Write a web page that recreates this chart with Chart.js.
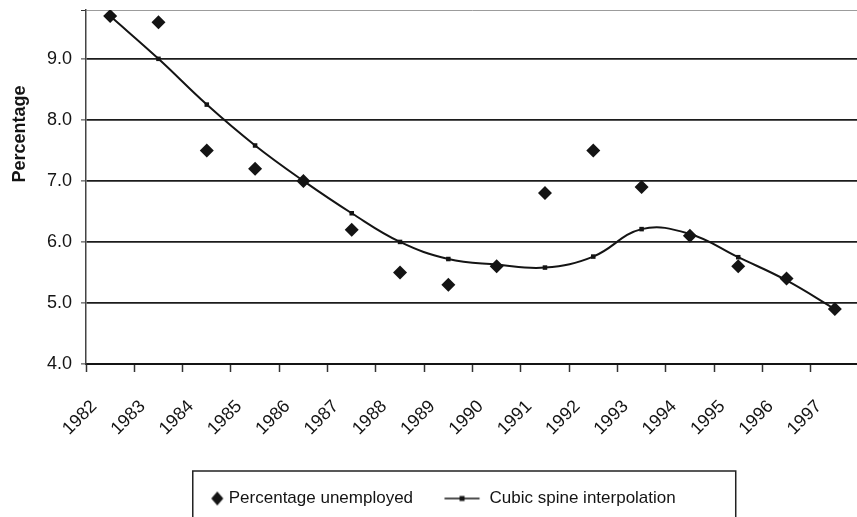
<!DOCTYPE html>
<html>
<head>
<meta charset="utf-8">
<title>Unemployment and cubic spline</title>
<script src="https://cdn.jsdelivr.net/npm/chart.js@4.4.0/dist/chart.umd.min.js"></script>
<style>
  html, body { margin: 0; padding: 0; background: #fff; overflow: hidden; }
  #wrap { width: 866px; height: 517px; }
</style>
</head>
<body>
<div id="wrap"><canvas id="chart" width="866" height="517"></canvas></div>
<script>
// Yearly unemployment rate and the fitted spline values
const years = ['1982', '1983', '1984', '1985', '1986', '1987', '1988', '1989',
               '1990', '1991', '1992', '1993', '1994', '1995', '1996', '1997'];
const unemployed = [9.7, 9.6, 7.5, 7.2, 7.0, 6.2, 5.5, 5.3, 5.6, 6.8, 7.5, 6.9, 6.1, 5.6, 5.4, 4.9];
const spline = [9.7, 9.0, 8.25, 7.58, 7.0, 6.47, 6.0, 5.72, 5.63, 5.58, 5.76, 6.21, 6.13, 5.75, 5.37, 4.9];
const yTicks = [4, 5, 6, 7, 8, 9];
const yMin = 4;
const yMax = 9.8;

const ink = '#141414';
Chart.defaults.font.family = "'Liberation Sans', Arial, sans-serif";
Chart.defaults.color = ink;

// small legend swatches: a diamond and a line with a square marker
function diamondSwatch() {
  const c = document.createElement('canvas');
  c.width = 44; c.height = 18;
  const g = c.getContext('2d');
  g.fillStyle = ink;
  g.beginPath();
  g.moveTo(34, 2); g.lineTo(40, 9); g.lineTo(34, 16); g.lineTo(28, 9);
  g.closePath();
  g.fill();
  return c;
}
function lineSwatch() {
  const c = document.createElement('canvas');
  c.width = 44; c.height = 18;
  const g = c.getContext('2d');
  g.strokeStyle = ink;
  g.lineWidth = 1.6;
  g.beginPath(); g.moveTo(0.5, 9); g.lineTo(35.5, 9); g.stroke();
  g.fillStyle = ink;
  g.fillRect(15.5, 6.5, 5, 5);
  return c;
}
const swatches = [diamondSwatch(), lineSwatch()];

// frame around the legend row
const legendFrame = {
  id: 'legendFrame',
  afterDraw(chart) {
    const hb = chart.legend.legendHitBoxes;
    if (!hb || hb.length < 2) return;
    const ctx = chart.ctx;
    const left = hb[0].left + 2.5;
    const right = hb[1].left + hb[1].width + 60;
    const top = hb[0].top - 19;
    ctx.save();
    ctx.strokeStyle = '#222';
    ctx.lineWidth = 1.5;
    ctx.strokeRect(left, top, right - left, 60);
    ctx.restore();
  }
};

// vertical axis title, set higher than the axis middle
const axisTitle = {
  id: 'axisTitle',
  afterDraw(chart) {
    const ctx = chart.ctx;
    ctx.save();
    ctx.translate(20, 134);
    ctx.rotate(-Math.PI / 2);
    ctx.font = "bold 18px 'Liberation Sans', Arial, sans-serif";
    ctx.fillStyle = ink;
    ctx.textAlign = 'center';
    ctx.textBaseline = 'middle';
    ctx.fillText('Percentage', 0, 0);
    ctx.restore();
  }
};

new Chart(document.getElementById('chart'), {
  type: 'line',
  data: {
    labels: years,
    datasets: [
      {
        label: 'Percentage unemployed',
        data: unemployed,
        showLine: false,
        pointStyle: 'rectRot',
        pointRadius: 7,
        pointBackgroundColor: ink,
        pointBorderColor: ink,
        pointBorderWidth: 0
      },
      {
        label: 'Cubic spine interpolation',
        data: spline,
        borderColor: ink,
        borderWidth: 2,
        tension: 0.4,
        pointStyle: 'rect',
        pointRadius: 3.2,
        pointBackgroundColor: ink,
        pointBorderColor: ink,
        pointBorderWidth: 0
      }
    ]
  },
  options: {
    responsive: false,
    animation: false,
    layout: { padding: { top: 10, left: 0, right: 0, bottom: 0 } },
    plugins: {
      tooltip: { enabled: false },
      legend: {
        position: 'bottom',
        labels: {
          usePointStyle: true,
          pointStyleWidth: 30,
          padding: 38,
          color: ink,
          font: { size: 17 },
          generateLabels(chart) {
            return Chart.defaults.plugins.legend.labels.generateLabels(chart).map((item, i) => {
              item.pointStyle = swatches[i];
              return item;
            });
          }
        }
      }
    },
    scales: {
      x: {
        type: 'category',
        offset: true,
        grid: {
          offset: true,
          drawOnChartArea: false,
          drawTicks: true,
          tickLength: 8,
          tickColor: '#333',
          tickWidth: 1.5
        },
        border: { display: true, color: ink, width: 2 },
        ticks: {
          autoSkip: false,
          maxRotation: 45,
          minRotation: 45,
          padding: 24,
          labelOffset: -16,
          font: { size: 18 },
          color: ink
        },
        afterFit(scale) {
          scale.height = 88;
          scale.paddingLeft = 0;
          scale.paddingRight = 0;
        }
      },
      y: {
        min: yMin,
        max: yMax,
        afterBuildTicks(scale) {
          scale.ticks = yTicks.concat([yMax]).map(v => ({ value: v }));
        },
        afterFit(scale) {
          scale.width = 86;
          scale.paddingTop = 0;
        },
        grid: {
          color: c => (c.tick && c.tick.value > 9.5) ? '#9c9c9c' : '#1c1c1c',
          lineWidth: c => (c.tick && c.tick.value > 9.5) ? 1 : 1.8,
          drawTicks: true,
          tickLength: 5,
          tickColor: '#333',
          tickWidth: 1
        },
        border: { display: true, color: '#444', width: 1.5 },
        ticks: {
          padding: 9,
          font: { size: 18 },
          color: ink,
          callback: v => yTicks.includes(v) ? v.toFixed(1) : ''
        }
      }
    }
  },
  plugins: [legendFrame, axisTitle]
});
</script>
</body>
</html>
